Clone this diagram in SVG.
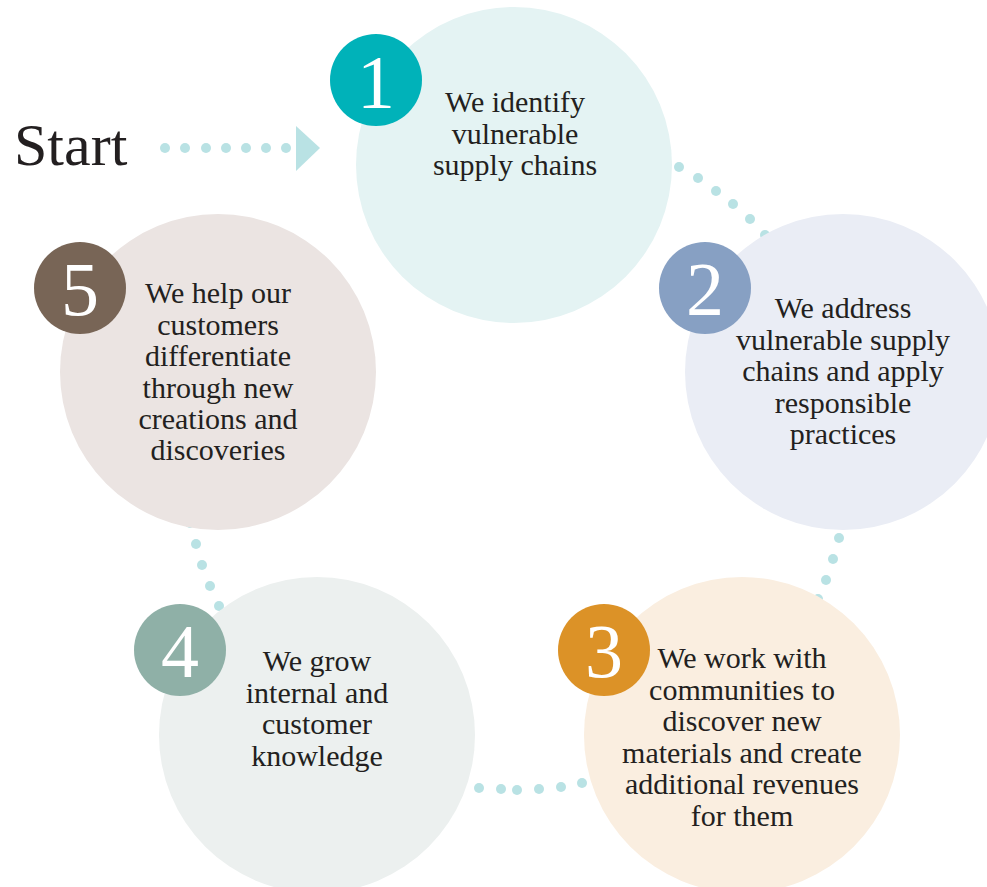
<svg xmlns="http://www.w3.org/2000/svg" width="987" height="887" viewBox="0 0 987 887">
<style>
.t{font-family:"Liberation Serif","Times New Roman",serif;font-size:30px;fill:#231f20;text-anchor:middle}
.n{font-family:"Liberation Serif","Times New Roman",serif;font-size:76px;fill:#ffffff;text-anchor:middle}
.d{fill:#b9e2e4}
</style>
<rect width="987" height="887" fill="#ffffff"/>
<g id="connectors" class="d">
<circle cx="165" cy="148" r="5"/><circle cx="185" cy="148" r="5"/><circle cx="206" cy="148" r="5"/><circle cx="226" cy="148" r="5"/><circle cx="246" cy="148" r="5"/><circle cx="266" cy="148" r="5"/><circle cx="286" cy="148" r="5"/>
<polygon points="296,126 320,148 296,171"/>
<circle cx="679" cy="167" r="5"/><circle cx="698" cy="178" r="5"/><circle cx="716" cy="191" r="5"/><circle cx="733" cy="204" r="5"/><circle cx="750" cy="219" r="5"/><circle cx="765" cy="235" r="5"/>
<circle cx="839" cy="538" r="5"/><circle cx="833" cy="559" r="5"/><circle cx="826" cy="580" r="5"/><circle cx="818" cy="599" r="5"/>
<circle cx="479" cy="788" r="5"/><circle cx="501" cy="789" r="5"/><circle cx="517" cy="790" r="5"/><circle cx="539" cy="789" r="5"/><circle cx="561" cy="787" r="5"/><circle cx="582" cy="783" r="5"/>
<circle cx="190" cy="523" r="5"/><circle cx="196" cy="544" r="5"/><circle cx="202" cy="565" r="5"/><circle cx="210" cy="586" r="5"/><circle cx="219" cy="606" r="5"/>
</g>
<text x="14" y="165" font-family="Liberation Serif, Times New Roman, serif" font-size="60" fill="#231f20">Start</text>
<g id="node1">
<circle cx="514" cy="165" r="158" fill="#e4f3f3"/>
<circle cx="376" cy="80" r="46" fill="#00b2b9"/>
<text class="n" x="376" y="108">1</text>
<text class="t" x="515" y="112">We identify</text>
<text class="t" x="515" y="143.5">vulnerable</text>
<text class="t" x="515" y="175">supply chains</text>
</g>
<g id="node2">
<circle cx="843" cy="372" r="158" fill="#eaedf5"/>
<circle cx="705" cy="288" r="46" fill="#87a0c3"/>
<text class="n" x="705" y="315">2</text>
<text class="t" x="843" y="318">We address</text>
<text class="t" x="843" y="349.5">vulnerable supply</text>
<text class="t" x="843" y="381">chains and apply</text>
<text class="t" x="843" y="412.5">responsible</text>
<text class="t" x="843" y="444">practices</text>
</g>
<g id="node3">
<circle cx="742" cy="735" r="158" fill="#faeee0"/>
<circle cx="604" cy="650" r="46" fill="#dc9227"/>
<text class="n" x="604" y="677">3</text>
<text class="t" x="742" y="668">We work with</text>
<text class="t" x="742" y="699.5">communities to</text>
<text class="t" x="742" y="731">discover new</text>
<text class="t" x="742" y="762.5">materials and create</text>
<text class="t" x="742" y="794">additional revenues</text>
<text class="t" x="742" y="825.5">for them</text>
</g>
<g id="node4">
<circle cx="317" cy="735" r="158" fill="#ecf0ef"/>
<circle cx="180" cy="650" r="46" fill="#8fb0a7"/>
<text class="n" x="180" y="677">4</text>
<text class="t" x="317" y="671">We grow</text>
<text class="t" x="317" y="702.5">internal and</text>
<text class="t" x="317" y="734">customer</text>
<text class="t" x="317" y="765.5">knowledge</text>
</g>
<g id="node5">
<circle cx="218" cy="372" r="158" fill="#ebe4e2"/>
<circle cx="80" cy="288" r="46" fill="#786556"/>
<text class="n" x="80" y="315">5</text>
<text class="t" x="218" y="303">We help our</text>
<text class="t" x="218" y="334.5">customers</text>
<text class="t" x="218" y="366">differentiate</text>
<text class="t" x="218" y="397.5">through new</text>
<text class="t" x="218" y="429">creations and</text>
<text class="t" x="218" y="460">discoveries</text>
</g>
</svg>
